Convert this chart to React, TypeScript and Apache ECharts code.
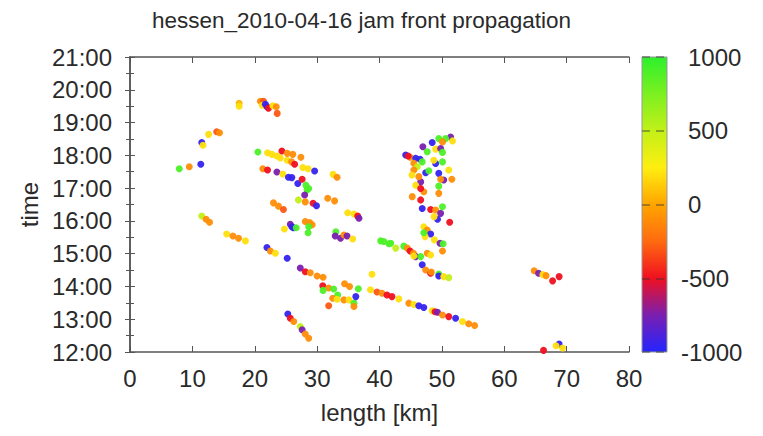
import React, { useEffect, useRef } from "react";
import * as echarts from "echarts";

const B = -950, P = -750, R = -500, OR = -300, O = -100, Y = 200, YG = 500, G = 900;

const xTicks = [0, 10, 20, 30, 40, 50, 60, 70, 80];
const timeTicks = [12, 13, 14, 15, 16, 17, 18, 19, 20, 21];
const colorTicks = [-1000, -500, 0, 500, 1000];
const paletteColors = ["#2424ff", "#7a1fb0", "#f01020", "#ff6a10", "#ffa500", "#ffee10", "#c2f018", "#7cf020", "#2cf02c"];

// [km, time (hours), value]
const topCluster = [
  [17.5, 19.59, 50], [17.5, 19.5, Y], [20.9, 19.65, O], [21.4, 19.65, OR], [21.2, 19.53, Y],
  [21.7, 19.56, B], [21.96, 19.48, B], [22.2, 19.44, R], [22.9, 19.51, Y], [23.45, 19.48, O], [23.6, 19.28, OR],
];
const leftCluster = [
  [13.9, 18.72, OR], [14.35, 18.69, O], [12.6, 18.64, Y], [11.5, 18.39, B], [11.7, 18.31, Y],
  [11.35, 17.73, B], [9.5, 17.65, O], [7.9, 17.59, G],
];
const diagonal17 = [
  [20.5, 18.1, G], [22.05, 18.08, Y], [22.75, 18.03, Y], [23.55, 17.98, Y], [24.1, 17.92, Y], [24.35, 18.13, R],
  [25.2, 18.06, O], [26.1, 18.03, O], [27.4, 17.94, O], [25.2, 17.85, Y], [25.9, 17.8, O], [26.4, 17.73, R],
  [27.7, 17.63, Y], [28.55, 17.59, Y], [29.6, 17.52, B], [21.3, 17.59, O], [22.05, 17.55, R], [23.55, 17.49, P],
  [24.5, 17.43, Y], [25.4, 17.33, B], [25.95, 17.32, B], [26.9, 17.14, B], [27.6, 17.27, R], [28.2, 17.09, G],
  [28.65, 16.99, G], [28.4, 16.94, G], [28.0, 16.79, P], [27.0, 16.64, YG], [28.1, 16.58, O], [29.35, 16.54, R],
  [29.9, 16.46, B], [31.7, 16.69, O], [32.8, 16.61, O], [32.55, 17.42, Y], [33.2, 17.33, O],
];
const middleCluster = [
  [23.0, 16.55, O], [23.8, 16.45, O], [24.6, 16.35, OR], [34.9, 16.25, Y], [35.9, 16.21, Y], [36.5, 16.15, R],
  [36.7, 16.08, P], [11.5, 16.15, YG], [12.2, 16.05, O], [12.75, 15.96, O], [25.7, 15.9, P], [25.95, 15.82, B],
  [26.2, 15.79, B], [26.65, 15.79, G], [24.75, 15.75, Y], [28.1, 15.98, O], [28.8, 15.95, O], [29.2, 15.88, O],
  [28.65, 15.82, G], [28.55, 15.64, G], [33.0, 15.67, G], [32.9, 15.54, P], [33.75, 15.47, P], [34.3, 15.57, O],
  [34.8, 15.54, P], [35.7, 15.45, Y], [15.5, 15.6, Y], [16.5, 15.54, O], [17.4, 15.47, O], [18.5, 15.39, Y],
  [21.95, 15.19, B], [22.5, 15.08, O], [23.3, 15.01, Y], [25.2, 14.86, B], [27.3, 14.56, P], [28.1, 14.45, R],
  [28.9, 14.42, O], [30.0, 14.32, O], [30.95, 14.28, O],
];
const lowerMiddle = [
  [30.9, 14.02, R], [31.85, 13.95, O], [30.95, 13.88, G], [32.65, 13.92, G], [33.3, 13.74, G], [32.5, 13.64, O],
  [31.85, 13.41, OR], [33.2, 13.61, Y], [34.3, 13.59, O], [35.1, 13.59, Y], [35.9, 13.49, G], [35.9, 13.39, O],
  [36.2, 13.69, B], [36.6, 13.93, G], [34.4, 14.08, O], [35.2, 14.0, O], [38.8, 14.37, Y],
];
const bottomDiagonal = [
  [25.3, 13.16, B], [25.7, 13.03, R], [26.25, 12.93, O], [27.3, 12.78, YG], [27.6, 12.68, P], [28.1, 12.55, O], [28.65, 12.42, O],
];
const longLine = [
  [38.55, 13.9, Y], [39.6, 13.83, OR], [40.4, 13.79, O], [41.2, 13.74, R], [42.0, 13.69, R], [43.1, 13.62, Y],
  [44.7, 13.49, O], [45.5, 13.45, Y], [46.3, 13.41, B], [47.1, 13.36, B], [48.45, 13.26, Y], [48.9, 13.23, R],
  [49.3, 13.21, P], [50.1, 13.13, O], [51.1, 13.08, R], [52.2, 13.03, B], [53.3, 12.93, Y], [54.3, 12.86, O], [55.25, 12.81, O],
];
const rightCluster = [
  [64.8, 14.48, O], [65.5, 14.4, P], [66.2, 14.36, Y], [66.7, 14.33, O], [67.75, 14.17, R], [68.8, 14.3, R],
  [66.3, 12.05, R], [68.8, 12.24, B], [68.3, 12.19, Y], [69.35, 12.12, Y],
];
const cluster45 = [
  [51.4, 18.56, P], [50.6, 18.51, G], [51.7, 18.44, Y], [49.5, 18.51, G], [50.1, 18.41, O], [48.45, 18.39, B],
  [46.95, 18.26, P], [47.65, 18.11, G], [49.0, 18.19, Y], [49.8, 18.21, P], [50.1, 18.09, G], [44.2, 18.01, B],
  [44.9, 17.94, O], [45.8, 17.91, B], [46.5, 17.88, B], [45.5, 17.76, O], [46.05, 17.65, YG], [46.85, 17.8, G],
  [49.0, 17.75, B], [50.1, 17.8, G], [47.4, 17.47, B], [47.9, 17.53, G], [49.5, 17.45, B], [50.3, 17.25, P],
  [51.1, 17.55, Y], [51.6, 17.27, O], [49.8, 17.27, O], [45.5, 17.55, O], [46.6, 17.19, P], [45.8, 17.09, Y],
  [47.1, 16.89, O], [46.6, 16.99, R], [49.5, 17.06, G], [49.5, 16.84, O], [45.25, 16.74, O], [46.6, 16.64, R],
  [46.85, 16.38, B], [48.2, 16.35, R], [49.0, 16.33, O], [49.8, 16.23, P], [50.1, 16.43, G], [49.3, 16.05, B],
  [48.75, 16.13, Y], [51.25, 15.96, R], [47.1, 15.82, Y], [47.65, 15.72, O], [48.2, 15.6, B], [47.3, 15.52, Y],
  [47.1, 15.64, G], [48.8, 15.42, Y], [49.7, 15.32, P], [50.2, 15.3, G], [50.1, 15.08, O], [40.2, 15.39, G],
  [40.7, 15.37, G], [41.5, 15.3, G], [41.8, 15.32, G], [42.6, 15.17, YG], [43.9, 15.23, G], [44.45, 15.17, O],
  [44.9, 15.08, R], [45.45, 15.01, O], [45.8, 14.91, P], [46.6, 14.91, G], [45.5, 14.93, Y], [47.65, 15.01, O],
  [48.2, 14.96, Y], [46.85, 14.66, B], [47.4, 14.5, O], [48.2, 14.4, R], [49.5, 14.38, G], [49.5, 14.32, B],
  [50.3, 14.3, Y], [51.1, 14.27, YG], [48.3, 14.44, O], [46.3, 17.35, O], [48.7, 17.85, Y], [44.6, 17.98, R], [45.2, 17.4, Y],
];

const allPoints = [
  ...topCluster, ...leftCluster, ...diagonal17, ...middleCluster, ...lowerMiddle,
  ...bottomDiagonal, ...longLine, ...rightCluster, ...cluster45,
];

const FONT = "Liberation Sans";
const TXT = "#2a2a2a";
const AXIS = "#555";

export default function App() {
  const ref = useRef<HTMLDivElement>(null);
  useEffect(() => {
    if (!ref.current) return;
    const chart = echarts.init(ref.current, null, { renderer: "svg" });
    const gridL = 130, gridT = 57, gridW = 499, gridH = 295;
    const cbL = 642, cbW = 25;
    const stops = paletteColors
      .slice()
      .reverse()
      .map((c, i, a) => ({ offset: i / (a.length - 1), color: c }));
    const tickLabel = { fontSize: 24, color: TXT, fontFamily: FONT };
    chart.setOption({
      animation: false,
      textStyle: { fontFamily: FONT },
      title: {
        text: "hessen_2010-04-16 jam front propagation",
        left: 147,
        top: 4,
        textStyle: { fontSize: 22.5, fontWeight: "normal", color: TXT, fontFamily: FONT },
      },
      grid: [
        { left: gridL, top: gridT, width: gridW, height: gridH },
        { left: cbL, top: gridT, width: cbW, height: gridH },
      ],
      xAxis: [
        {
          gridIndex: 0, type: "value", min: xTicks[0], max: xTicks[xTicks.length - 1], interval: 10,
          position: "bottom",
          axisLine: { lineStyle: { color: AXIS, width: 1.5 } },
          axisTick: { inside: true, length: 6, lineStyle: { color: AXIS } },
          axisLabel: { ...tickLabel, margin: 14 },
          splitLine: { show: false },
          name: "length [km]", nameLocation: "middle", nameGap: 48,
          nameTextStyle: { fontSize: 24, color: TXT, fontFamily: FONT },
        },
        {
          gridIndex: 0, type: "value", min: xTicks[0], max: xTicks[xTicks.length - 1], interval: 10,
          position: "top",
          axisLine: { lineStyle: { color: AXIS, width: 1.5 } },
          axisTick: { inside: true, length: 6, lineStyle: { color: AXIS } },
          axisLabel: { show: false },
          splitLine: { show: false },
        },
        { gridIndex: 1, type: "value", min: 0, max: 1, show: false },
      ],
      yAxis: [
        {
          gridIndex: 0, type: "value", min: timeTicks[0], max: timeTicks[timeTicks.length - 1], interval: 1,
          position: "left",
          axisLine: { lineStyle: { color: AXIS, width: 1.5 } },
          axisTick: { inside: true, length: 5, lineStyle: { color: AXIS } },
          minorTick: { show: true, splitNumber: 2, length: 4, lineStyle: { color: AXIS } },
          axisLabel: { ...tickLabel, margin: 18, formatter: (v: number) => `${v}:00` },
          splitLine: { show: false },
          name: "time", nameLocation: "middle", nameGap: 88,
          nameTextStyle: { fontSize: 24, color: TXT, fontFamily: FONT },
        },
        {
          gridIndex: 0, type: "value", min: timeTicks[0], max: timeTicks[timeTicks.length - 1], interval: 1,
          position: "right",
          axisLine: { lineStyle: { color: AXIS, width: 1.5 } },
          axisTick: { inside: true, length: 5, lineStyle: { color: AXIS } },
          minorTick: { show: true, splitNumber: 2, length: 4, lineStyle: { color: AXIS } },
          axisLabel: { show: false },
          splitLine: { show: false },
        },
        {
          gridIndex: 1, type: "value", min: colorTicks[0], max: colorTicks[colorTicks.length - 1], interval: 500,
          position: "right", z: 10,
          axisLine: { show: false },
          axisTick: { show: false },
          splitLine: { show: true, lineStyle: { color: "#333", opacity: 0.55, type: [8, 6], width: 1.5 } },
          axisLabel: {
            ...tickLabel, margin: 14,
            formatter: (v: number) => (v < 0 ? `${v}` : `{p| }${v}`),
            rich: { p: { width: 7, fontSize: 24 } },
          },
        },
      ],
      visualMap: {
        type: "continuous", min: -1000, max: 1000, dimension: 2, show: false, seriesIndex: 0,
        inRange: { color: paletteColors },
      },
      graphic: [
        {
          type: "rect", z: -1,
          shape: { x: cbL, y: gridT, width: cbW, height: gridH },
          style: { fill: new echarts.graphic.LinearGradient(0, 0, 0, 1, stops), stroke: "#999", lineWidth: 1 },
        },
      ],
      series: [
        {
          type: "scatter", xAxisIndex: 0, yAxisIndex: 0, symbolSize: 7,
          data: allPoints, itemStyle: { opacity: 0.95 },
        },
      ],
    });
    return () => chart.dispose();
  }, []);
  return <div ref={ref} style={{ position: "fixed", left: 0, top: 0, width: 763, height: 436, background: "#fff" }} />;
}
